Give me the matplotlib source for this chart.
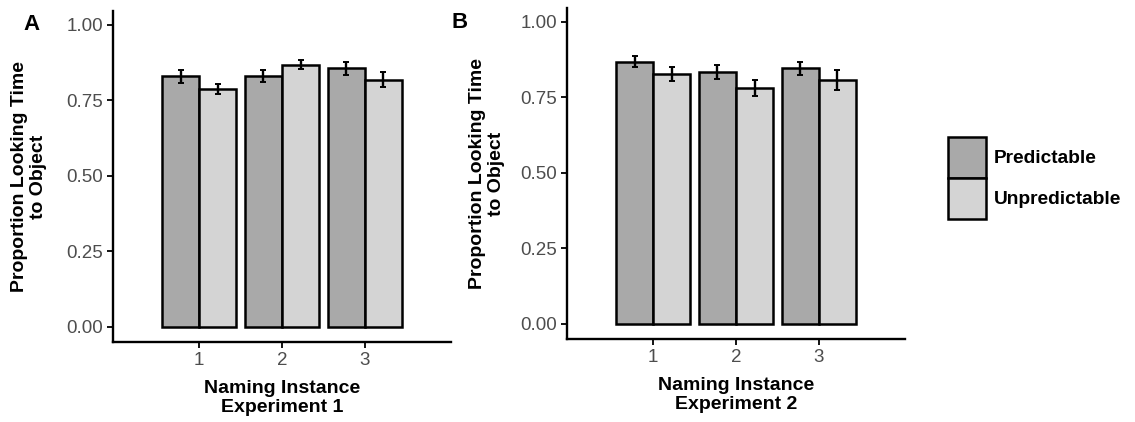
import matplotlib
matplotlib.use("Agg")
import matplotlib.pyplot as plt
import numpy as np
from matplotlib.patches import Patch

plt.rcParams['font.family'] = ['Liberation Sans', 'DejaVu Sans']

instances = [1, 2, 3]
conditions = ["Predictable", "Unpredictable"]
colors = ["#A9A9A9", "#D4D4D4"]

exp1_pred = [0.829, 0.830, 0.855]
exp1_pred_se = [0.022, 0.021, 0.022]
exp1_unpred = [0.787, 0.868, 0.817]
exp1_unpred_se = [0.017, 0.015, 0.025]

exp2_pred = [0.868, 0.834, 0.846]
exp2_pred_se = [0.018, 0.023, 0.021]
exp2_unpred = [0.826, 0.780, 0.807]
exp2_unpred_se = [0.023, 0.027, 0.033]

W, H = 1135, 422
fig = plt.figure(figsize=(W / 100, H / 100), dpi=100)

def px_axes(l, r, b, t):
    return fig.add_axes([l / W, 1 - b / H, (r - l) / W, (b - t) / H])

axA = px_axes(113, 451, 342, 11)
axB = px_axes(567, 905, 339, 8)

panels = [
    (axA, 113, exp1_pred, exp1_pred_se, exp1_unpred, exp1_unpred_se, "Experiment 1", 47),
    (axB, 567, exp2_pred, exp2_pred_se, exp2_unpred, exp2_unpred_se, "Experiment 2", 505),
]

bw = 0.45
x = np.array(instances, dtype=float)
for ax, left_px, p, pse, u, use, exp, ylab_right in panels:
    for vals, se, off, col in [(p, pse, -bw / 2, colors[0]), (u, use, bw / 2, colors[1])]:
        ax.bar(x + off, vals, width=bw, color=col, edgecolor="black", linewidth=1.8, zorder=2)
        ax.errorbar(x + off, vals, yerr=se, fmt="none", ecolor="black", elinewidth=1.7,
                    capsize=2.0, capthick=1.4, zorder=3)
    ax.set_xlim(-0.04, 4.04)
    ax.set_ylim(-0.05, 1.045)
    ax.set_xticks(instances)
    ax.set_xticklabels([str(i) for i in instances])
    ax.set_yticks([0, 0.25, 0.5, 0.75, 1.0])
    ax.set_yticklabels(["0.00", "0.25", "0.50", "0.75", "1.00"])
    for s in ["top", "right"]:
        ax.spines[s].set_visible(False)
    for s in ["left", "bottom"]:
        ax.spines[s].set_linewidth(1.7)
    ax.tick_params(axis="both", length=4, width=1.3, color="black",
                   labelsize=13.5, labelcolor="#4D4D4D", pad=3)
    ax.set_ylabel("Proportion Looking Time\nto Object", fontsize=14, fontweight="bold",
                  linespacing=1.12)
    ax.yaxis.set_label_coords((ylab_right - left_px) / 338, 0.5)
    ax.set_xlabel("Naming Instance\n" + exp, fontsize=14, fontweight="bold",
                  linespacing=1.17, labelpad=8)

fig.text(31 / W, 1 - 24 / H, "A", fontsize=16, fontweight="bold", ha="center", va="center")
fig.text(460 / W, 1 - 22 / H, "B", fontsize=16, fontweight="bold", ha="center", va="center")

handles = [Patch(facecolor=c, edgecolor="black", linewidth=1.8) for c in colors]
fig.legend(handles, conditions, loc="center left", bbox_to_anchor=(948 / W, 1 - 178 / H),
           frameon=False, prop={"weight": "bold", "size": 13.8},
           handlelength=2.0, handleheight=2.9, labelspacing=0.0, handletextpad=0.4,
           borderpad=0, borderaxespad=0)

fig.savefig("out.png", dpi=100)
